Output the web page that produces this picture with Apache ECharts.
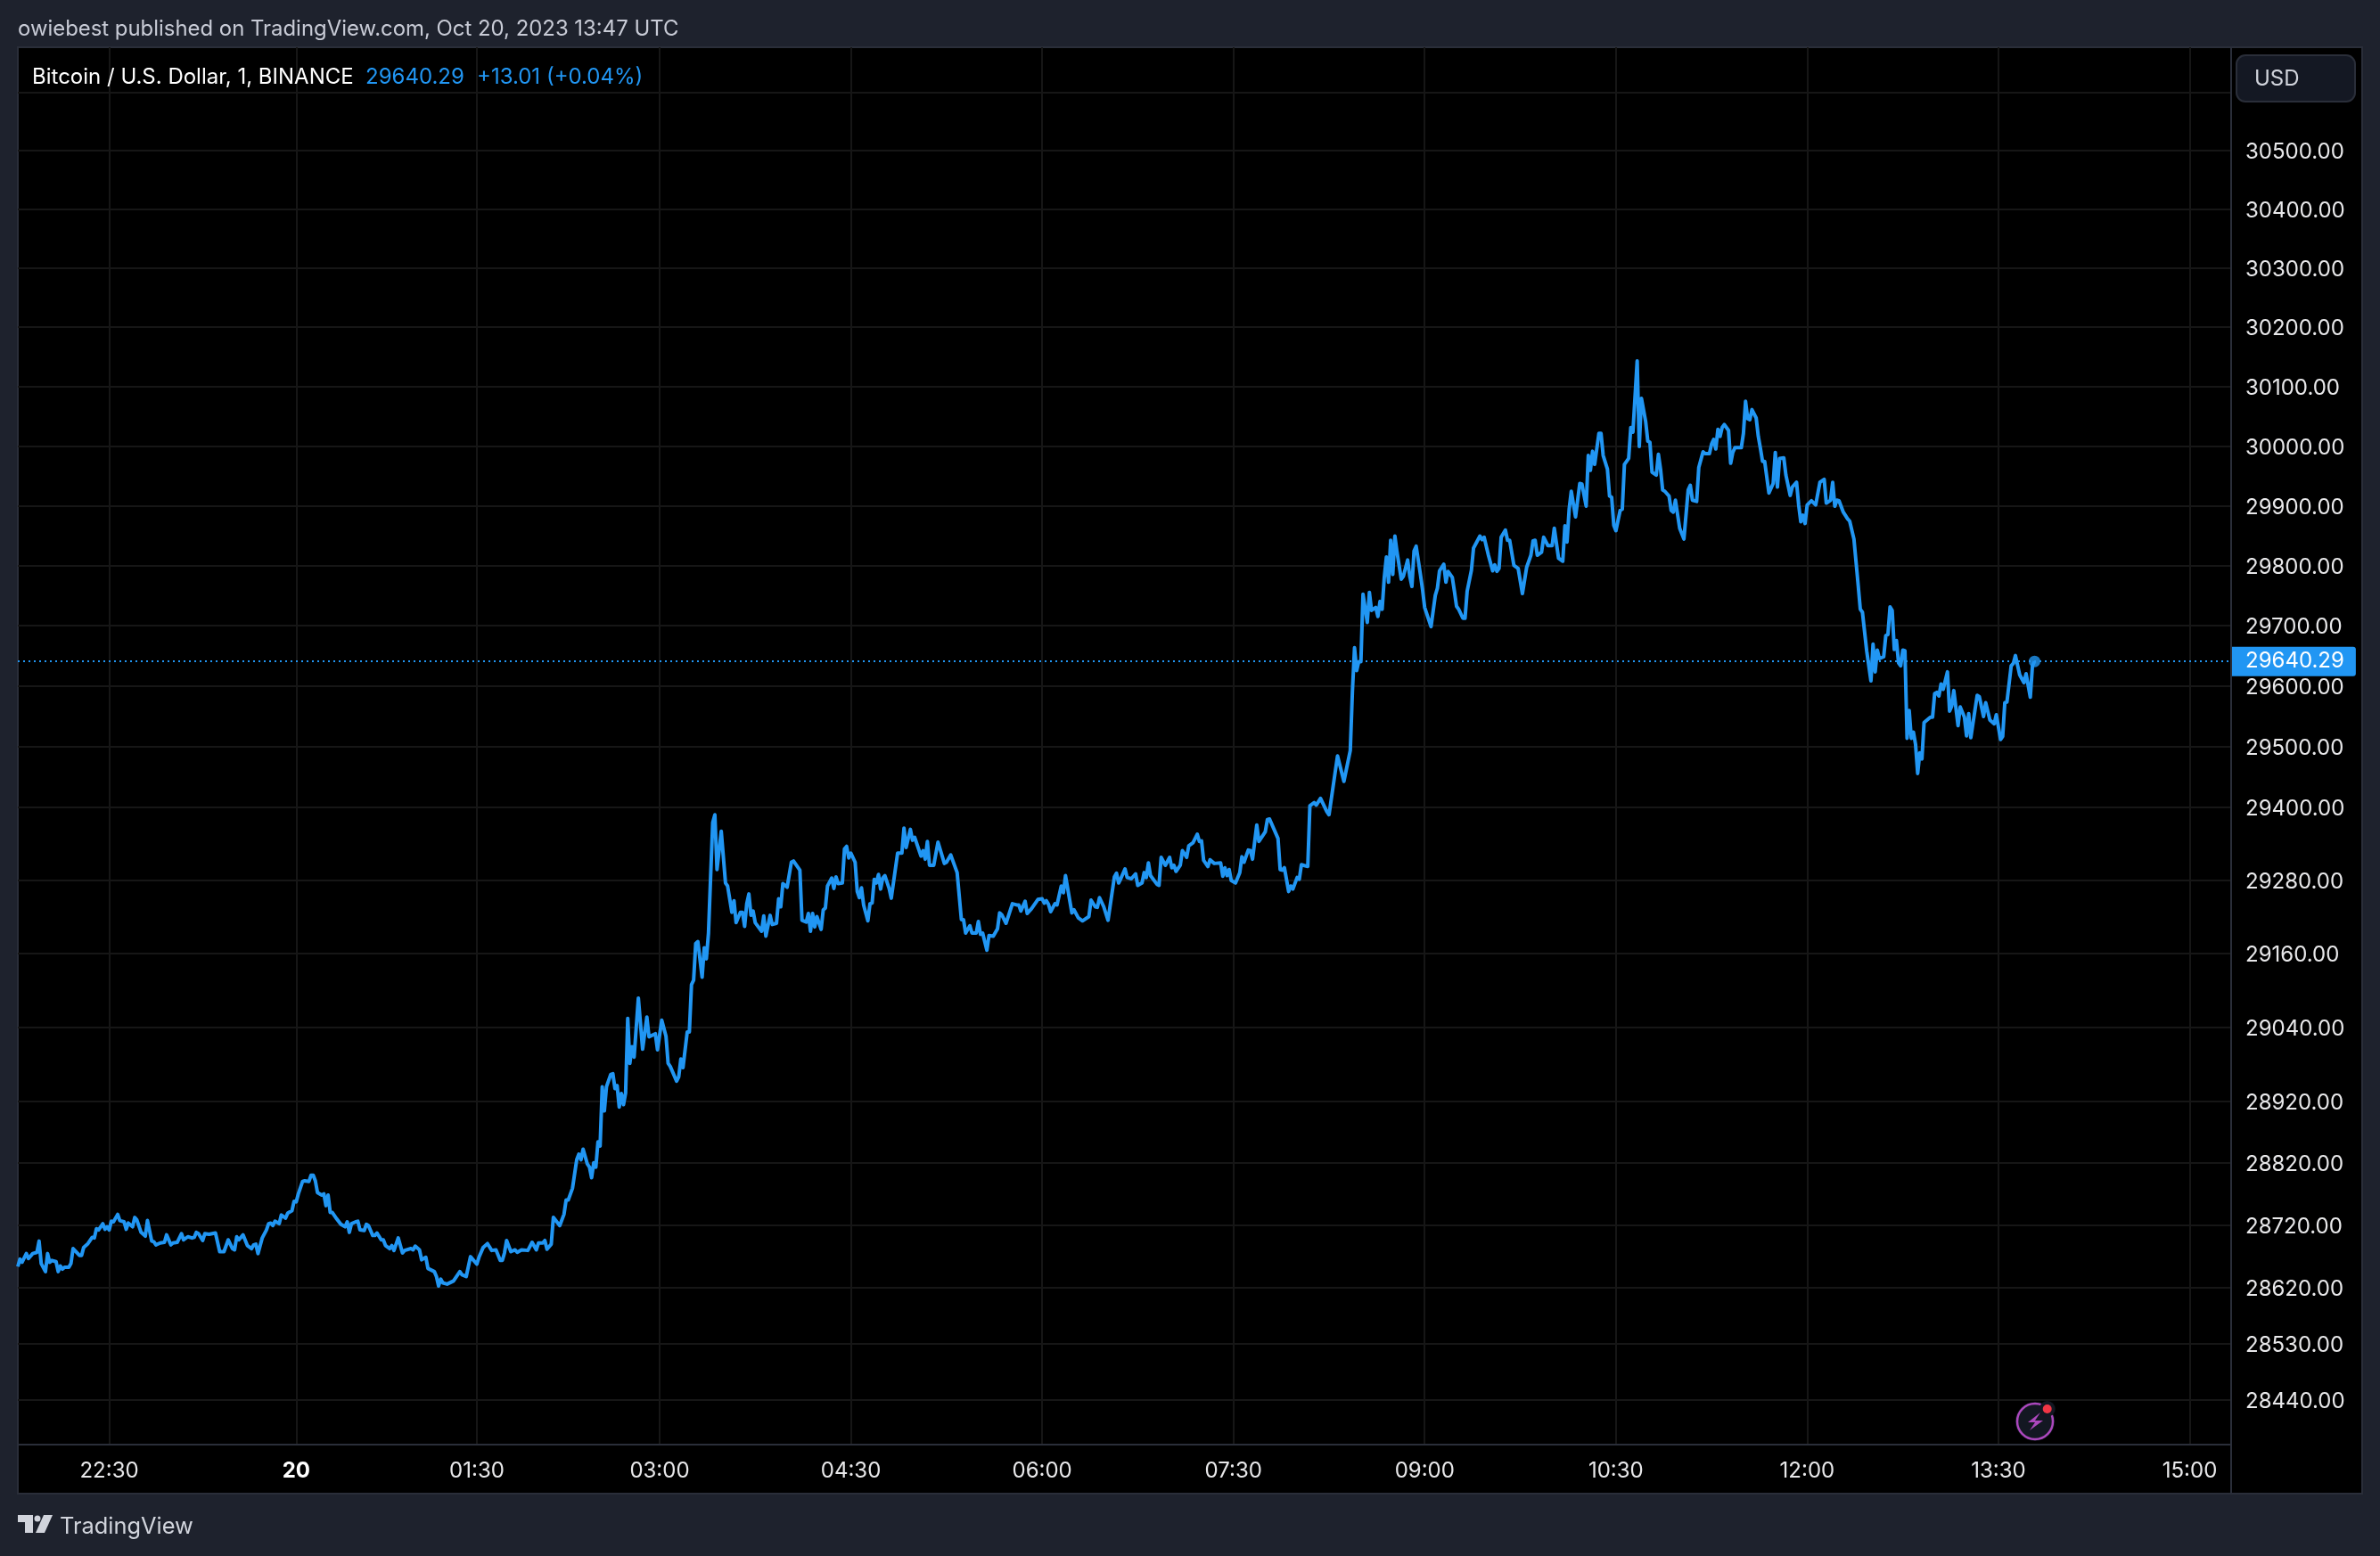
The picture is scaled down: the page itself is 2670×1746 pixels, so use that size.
<!DOCTYPE html>
<html>
<head>
<meta charset="utf-8">
<title>Bitcoin / U.S. Dollar</title>
<style>
  html, body { margin: 0; padding: 0; background: #1e222d; }
  #chart { width: 2670px; height: 1746px; }
</style>
<script src="https://cdn.jsdelivr.net/npm/echarts@6/dist/echarts.min.js"></script>
</head>
<body>
<div id="chart"></div>
<script>
// Bar position on the (1 minute) time scale
const bars = [
  0,1,2,4,5,7,9,10,11,13,14,15,16,18,19,20,21,22,24,25,26,29,30,31,33,35,36,37,38,40,41,42,43,44,45,47,48,50,51,52,54,55,56,58,60,61,63,64,65,67,69,70,72,73,75,77,78,80,82,83,84,85,87,88,90,93,95,97,99,101,102,103,104,106,108,110,111,112,113,115,117,118,119,120,121,123,124,126,127,129,130,131,132,133,134,135,137,138,139,140,141,143,144,145,146,147,148,150,152,154,155,156,157,159,160,161,163,164,165,167,
  168,169,171,172,173,175,176,177,179,181,182,185,186,187,189,190,192,193,196,197,198,199,200,202,205,208,209,211,213,216,217,219,221,223,225,227,228,229,230,232,234,235,237,240,242,244,245,247,248,249,251,252,255,257,258,259,261,263,264,265,266,268,269,270,271,272,273,274,275,276,277,279,280,281,282,283,284,285,286,287,288,289,290,292,294,296,297,300,301,303,305,306,307,310,311,312,313,315,316,317,318,319,320,322,323,324,325,
  326,327,328,329,331,333,334,336,337,338,340,341,342,343,344,345,346,347,350,351,352,354,355,357,358,359,360,362,364,365,368,369,371,372,373,374,375,376,378,379,380,381,383,384,385,386,388,389,390,391,392,394,395,396,397,398,400,401,402,403,404,405,406,407,408,410,411,414,416,417,418,420,421,422,425,426,427,428,429,431,433,436,437,439,442,444,445,446,448,449,451,452,453,454,456,457,459,461,462,463,465,468,470,471,472,474,475,477,480,482,483,484,485,486,
  488,489,491,492,493,496,497,499,501,504,505,507,508,509,511,513,516,517,518,519,521,522,524,526,527,529,530,531,532,533,536,537,538,540,542,543,544,545,547,548,550,551,553,555,556,557,558,560,561,563,566,567,568,569,570,571,573,575,576,577,579,580,581,583,584,587,588,589,593,594,595,596,598,599,600,602,603,604,607,608,610,611,613,616,617,
  621,624,627,628,629,630,631,632,633,635,636,637,639,640,641,642,643,644,645,646,647,648,649,651,652,654,655,656,657,658,660,661,662,665,667,668,669,671,672,673,675,676,677,678,680,681,682,684,685,688,689,690,692,694,695,696,697,698,700,701,702,704,706,708,710,712,713,714,715,717,718,720,722,723,725,727,728,729,730,731,733,735,736,738,739,740,741,742,744,745,746,748,749,750,751,752,754,755,756,758,759,760,762,763,764,766,767,768,769,771,772,773,774,775,777,778,779,780,782,784,786,787,788,
  790,791,793,794,796,797,798,799,800,801,802,803,805,806,807,808,811,812,813,814,815,816,818,819,820,821,822,824,826,827,828,829,831,832,834,835,837,838,839,840,841,842,844,846,848,850,851,853,854,855,856,857,859,861,862,864,866,867,868,870,872,873,874,875,876,878,879,880,881,882,883,884,885,886,887,888,889,890,891,892,893,894,895,896,897,898,900,901,902,903,904,905,906,908,909,910,911,913,914,916,917,918,919,922,923,925,926,928,930,931,933,934,935,936,938,939,940,942,944,945,947,948,949
];

// BTC/USD closes at those bars
const closes = [
  28653,28665,28660,28674,28666,28674,28676,28694,28658,28645,28674,28660,28663,28661,28645,28654,28649,28652,28652,28658,28682,28671,28671,28684,28690,28700,28699,28714,28712,28722,28713,28717,28712,28726,28725,28737,28727,28725,28713,28723,28717,28732,28728,28708,28702,28727,28694,28693,28688,28691,28692,28704,28688,28691,28692,28706,28696,28701,28699,28700,28708,28706,28695,28706,28705,28707,28677,28677,28696,28682,28680,28701,28696,28704,28687,28682,28688,28689,28674,28699,28712,28722,28723,28719,28726,28722,28736,28731,28739,28743,28758,28757,28770,28780,28790,28791,28790,28800,28800,28791,28772,28768,28770,28751,28768,28740,28740,28730,28721,28717,28725,28708,28722,28725,28726,28712,28711,28721,28719,28703,
  28703,28707,28696,28696,28687,28682,28687,28679,28699,28675,28679,28682,28680,28686,28680,28664,28668,28650,28645,28637,28622,28633,28627,28625,28630,28645,28640,28637,28669,28657,28668,28684,28690,28679,28680,28663,28663,28675,28695,28677,28680,28676,28680,28679,28692,28680,28691,28691,28695,28681,28689,28732,28719,28737,28760,28760,28779,28825,28834,28825,28842,28818,28813,28796,28820,28813,28854,28847,28943,28904,28943,28963,28964,28940,28945,28910,28932,28914,28933,29054,28981,29008,28991,29087,29004,29056,29024,29029,29003,29051,29025,28981,28976,28952,28959,28988,28974,29032,29032,29109,29116,29176,29179,29121,29169,29151,29193,
  29285,29374,29387,29297,29360,29275,29270,29227,29246,29210,29227,29227,29204,29241,29257,29222,29229,29210,29196,29221,29188,29222,29207,29209,29249,29236,29274,29268,29309,29311,29296,29214,29211,29225,29196,29225,29203,29220,29199,29231,29234,29270,29283,29266,29285,29274,29275,29331,29335,29316,29324,29309,29261,29251,29267,29239,29213,29241,29242,29281,29275,29289,29265,29283,29287,29266,29250,29324,29324,29365,29333,29363,29345,29350,29319,29328,29314,29343,29304,29304,29342,29307,29309,29321,29292,29215,29215,29193,29205,29193,29193,29212,29191,29193,29165,29189,29188,29200,29226,29223,29209,29241,29239,29239,29229,29245,29225,29233,29248,29249,29242,29246,29240,29228,
  29241,29239,29270,29259,29287,29226,29231,29218,29213,29220,29247,29236,29235,29251,29236,29214,29285,29291,29275,29282,29298,29284,29282,29290,29271,29275,29292,29284,29308,29287,29273,29271,29317,29304,29317,29300,29304,29294,29304,29328,29317,29336,29341,29355,29343,29344,29312,29302,29313,29307,29308,29286,29300,29287,29297,29279,29275,29292,29318,29309,29329,29328,29314,29370,29343,29359,29379,29380,29348,29297,29296,29300,29261,29270,29265,29284,29281,29305,29302,29402,29407,29403,29414,29392,29387,
  29484,29442,29493,29590,29663,29625,29640,29640,29752,29705,29755,29725,29730,29715,29740,29727,29780,29814,29772,29842,29785,29849,29822,29777,29782,29809,29782,29765,29824,29832,29785,29760,29730,29698,29750,29762,29791,29802,29772,29790,29780,29757,29732,29727,29712,29712,29757,29792,29829,29849,29843,29847,29817,29791,29801,29790,29795,29847,29859,29842,29842,29800,29795,29753,29797,29817,29841,29842,29817,29822,29847,29833,29833,29862,29812,29807,29866,29839,29894,29924,29881,29937,29936,29899,29984,29959,29991,29969,30021,30021,29984,29961,29916,29914,29867,29858,29892,29894,29969,29979,30031,30023,30143,29999,30080,30041,30008,30006,29956,29951,29986,29961,29926,29924,29916,29892,29889,29909,29862,29844,29926,29934,29909,
  29907,29964,29990,29987,29987,30003,30011,29995,30028,30016,30031,30036,30026,29971,29989,29997,29997,30021,30075,30046,30044,30061,30047,30016,29996,29974,29974,29921,29937,29989,29931,29979,29980,29951,29917,29931,29939,29901,29873,29884,29870,29901,29908,29901,29939,29944,29904,29909,29939,29899,29909,29908,29889,29878,29874,29844,29767,29727,29722,29658,29608,29669,29623,29659,29645,29648,29683,29685,29731,29725,29660,29675,29638,29633,29659,29658,29513,29559,29513,29523,29503,29455,29489,29479,29539,29542,29548,29548,29587,29589,29583,29603,29594,29623,29558,29566,29592,29534,29565,29548,29517,29554,29514,29584,29582,29549,29572,29543,29537,29552,29511,29516,29572,29573,29633,29637,29650,29618,29605,29620,29581,29633,29640.29
];

const lastPrice = 29640.29;

// Time axis ticks. TradingView spaces by bars, so a few are closer together (missing bars)
const timeTickBars = [43, 131, 216, 302, 392, 482, 572, 662, 752, 842, 932, 1022];
const timeTickLabels = ['22:30', '20', '01:30', '03:00', '04:30', '06:00', '07:30', '09:00', '10:30', '12:00', '13:30', '15:00'];

// Price axis: log scale, hand picked steps like the original
const priceGridLines = [30600, 30500, 30400, 30300, 30200, 30100, 30000, 29900, 29800, 29700, 29600, 29500, 29400, 29280, 29160, 29040, 28920, 28820, 28720, 28620, 28530, 28440];
const priceLabels = priceGridLines.slice(1);

const FONT = 'Inter, "Noto Sans", sans-serif';
const BLUE = '#2196f3';
const BORDER = '#2a2e39';

const chart = echarts.init(document.getElementById('chart'));

const text = (x, y, str, fill, size, extra) => ({
  type: 'text',
  x, y, z: 100,
  style: Object.assign({ text: str, fill, font: `${size}px ${FONT}`, textVerticalAlign: 'middle' }, extra)
});

chart.setOption({
  animation: false,
  backgroundColor: '#1e222d',
  grid: { left: 20, right: 167, top: 53, bottom: 125 },
  xAxis: {
    type: 'value',
    min: 0,
    max: 1041.5,
    axisLine: { show: true, onZero: false, lineStyle: { color: BORDER, width: 2 } },
    axisTick: { show: false, customValues: timeTickBars },
    splitLine: { show: true, lineStyle: { color: '#161616', width: 2 } },
    axisLabel: {
      customValues: timeTickBars,
      margin: 18,
      color: '#e8e8ea',
      fontFamily: FONT,
      fontSize: 24,
      hideOverlap: false,
      formatter: (v) => {
        const label = timeTickLabels[timeTickBars.indexOf(v)];
        return label === '20' ? `{day|${label}}` : label;
      },
      rich: { day: { fontWeight: 700, fontSize: 24, fontFamily: FONT, color: '#ffffff' } }
    }
  },
  yAxis: {
    type: 'log',
    position: 'right',
    min: 28369,
    max: 30677,
    axisLine: { show: true, onZero: false, lineStyle: { color: BORDER, width: 2 } },
    axisTick: { show: false, customValues: priceGridLines },
    splitLine: { show: true, lineStyle: { color: '#161616', width: 2 } },
    axisLabel: {
      customValues: priceLabels,
      margin: 16,
      color: '#e8e8ea',
      fontFamily: FONT,
      fontSize: 24,
      hideOverlap: false,
      // top padding on the token nudges the price down to sit on its grid line
      formatter: (v) => `{price|${Number(v).toFixed(2)}}`,
      rich: { price: { color: '#e8e8ea', fontFamily: FONT, fontSize: 24, padding: [4, 0, 0, 0] } }
    }
  },
  series: [
    {
      name: 'BTCUSD',
      type: 'line',
      showSymbol: false,
      symbol: 'none',
      smooth: false,
      lineStyle: { color: BLUE, width: 4, join: 'round' },
      data: bars.map((b, i) => [b, closes[i]]),
      markLine: {
        silent: true,
        symbol: 'none',
        precision: 2,
        lineStyle: { color: BLUE, width: 2, type: [2, 4] },
        label: {
          position: 'end',
          distance: -1,
          formatter: () => lastPrice.toFixed(2),
          color: '#ffffff',
          fontFamily: FONT,
          fontSize: 24,
          backgroundColor: BLUE,
          padding: [5, 13, 4, 17],
          borderRadius: [0, 3, 3, 0]
        },
        data: [{ yAxis: lastPrice }]
      }
    },
    {
      name: 'last',
      type: 'scatter',
      symbolSize: 13,
      itemStyle: { color: BLUE },
      data: [[bars[bars.length - 1], lastPrice]]
    }
  ],
  graphic: [
    // chart frame
    { type: 'rect', z: -1, shape: { x: 20, y: 53, width: 2630, height: 1623 },
      style: { fill: '#000000', stroke: BORDER, lineWidth: 2 } },
    { type: 'line', z: 100, shape: { x1: 2503, y1: 53, x2: 2503, y2: 1676 },
      style: { stroke: BORDER, lineWidth: 2 } },
    // header and legend
    text(20, 32.5, 'owiebest published on TradingView.com, Oct 20, 2023 13:47 UTC', '#c8cbd6', 23.9),
    text(36, 87, 'Bitcoin / U.S. Dollar, 1, BINANCE', '#ffffff', 24),
    text(410, 87, '29640.29', BLUE, 24),
    text(535, 87, '+13.01 (+0.04%)', BLUE, 24),
    // currency button
    { type: 'rect', z: 100, shape: { x: 2509, y: 62, width: 133, height: 52, r: 10 },
      style: { fill: '#141823', stroke: BORDER, lineWidth: 2 } },
    text(2529, 89, 'USD', '#d1d4dc', 24),
    // TradingView logo
    { type: 'polygon', z: 100,
      shape: { points: [[20, 1700], [37, 1700], [37, 1720], [28, 1720], [28, 1708], [20, 1708]] },
      style: { fill: '#d1d4dc' } },
    { type: 'circle', z: 100, shape: { cx: 42, cy: 1704, r: 3.5 }, style: { fill: '#d1d4dc' } },
    { type: 'polygon', z: 100,
      shape: { points: [[49, 1700], [59, 1700], [50, 1720], [40, 1720]] },
      style: { fill: '#d1d4dc' } },
    text(67, 1713, 'TradingView', '#d1d4dc', 25.4),
    // lightning badge
    { type: 'circle', z: 100, shape: { cx: 2283, cy: 1595, r: 22 }, style: { fill: '#131722' } },
    { type: 'circle', z: 101, shape: { cx: 2283, cy: 1595, r: 20 }, style: { fill: 'none', stroke: '#ab47bc', lineWidth: 2.5 } },
    { type: 'polygon', z: 102,
      shape: { points: [[2289, 1585], [2275, 1596], [2283, 1596], [2277, 1605], [2292, 1594], [2283, 1594]] },
      style: { fill: '#ab47bc' } },
    { type: 'circle', z: 103, shape: { cx: 2296.7, cy: 1581, r: 9 }, style: { fill: '#131722' } },
    { type: 'circle', z: 104, shape: { cx: 2296.7, cy: 1581, r: 5 }, style: { fill: '#f23645' } }
  ]
});
</script>
</body>
</html>
